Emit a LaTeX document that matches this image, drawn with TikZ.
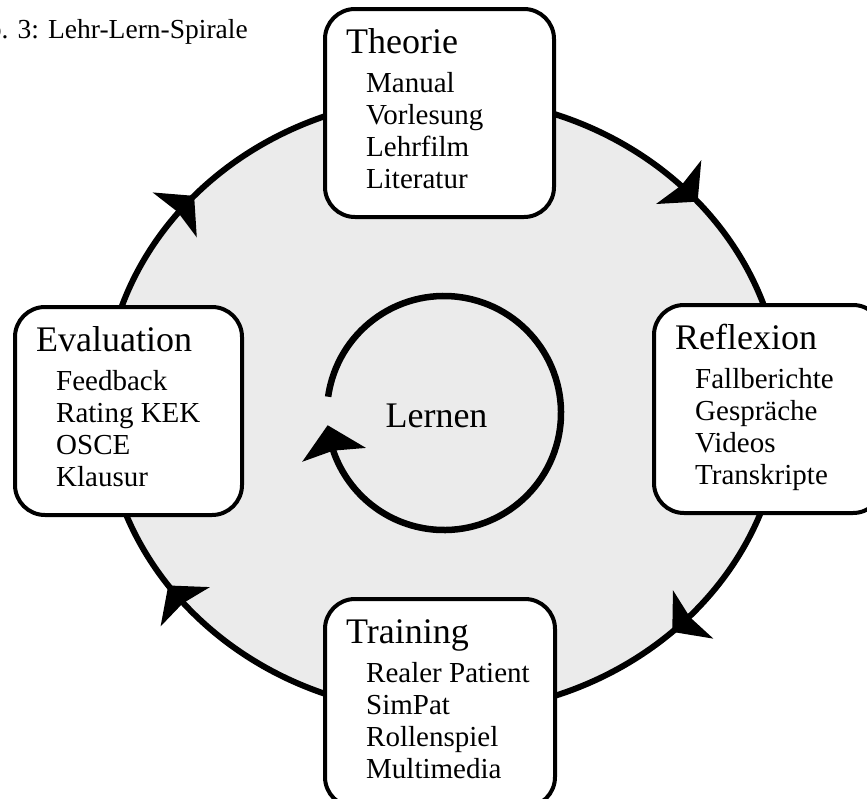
\documentclass[tikz,border=0pt]{standalone}
\usepackage{fontspec}
\setmainfont{Liberation Serif}
\usetikzlibrary{arrows.meta,bending,decorations.markings,calc}
\definecolor{ringfill}{HTML}{EBEBEB}
\tikzset{
  stagebox/.style={draw=black, line width=4pt, rounded corners=30pt, fill=white, inner sep=0pt, minimum height=208pt},
  titletext/.style={anchor=base west, inner sep=0pt, font=\fontsize{36}{40}\selectfont},
  itemtext/.style={anchor=base west, inner sep=0pt, font=\fontsize{29}{32}\selectfont},
  bigtip/.tip={Stealth[length=27pt,width=62pt,inset=4pt]},
  loopline/.style={line width=6.5pt, -{Stealth[length=30pt,width=64pt,inset=4pt]}},
  ringline/.style={line width=6pt, draw=black, fill=ringfill},
}
\newcommand{\mkstage}[6]{%
  \node[stagebox, minimum width=#4, anchor=north west] (#1) at (#2,#3) {};
  \node[titletext] (#1-title) at ($(#1.north west)+(23,46)$) {#5};
  \foreach \t [count=\i] in {#6} {
    \node[itemtext] (#1-item\i) at ($(#1.north west)+(43,54+31.8*\i)$) {\t};
  }%
}
\begin{document}
\begin{tikzpicture}[x=1pt,y=-1pt]
\useasboundingbox (0,0) rectangle (867,798);
% caption (partly cut off at the left edge, as in the reference)
\node[anchor=base west, inner sep=0pt, font=\fontsize{27.5}{31}\selectfont] (caption) at (48,38) {\llap{Abb. 3: }Lehr-Lern-Spirale};
% outer ring with clockwise arrowheads
\coordinate (ctr) at (443,405);
\draw[ringline, postaction={decorate}, decoration={markings,
    mark=at position 0.128 with {\arrow{bigtip}},
    mark=at position 0.404 with {\arrow{bigtip}},
    mark=at position 0.615 with {\arrow{bigtip}},
    mark=at position 0.889 with {\arrow{bigtip}}}]
  (ctr) ellipse [x radius=339, y radius=308];
% inner loop
\coordinate (lctr) at (444,413);
\node[anchor=base, inner sep=0pt, font=\fontsize{36}{40}\selectfont] (lernen) at (436.5,427) {Lernen};
\draw[loopline] ($(lctr)+(188:117)$) arc[start angle=188, end angle=534, radius=117];
% stage boxes
\mkstage{theorie}{323}{7}{229}{Theorie}{Manual,Vorlesung,Lehrfilm,Literatur}
\mkstage{evaluation}{13}{305}{227}{Evaluation}{Feedback,Rating KEK,OSCE,Klausur}
\mkstage{reflexion}{652}{303}{229}{Reflexion}{Fallberichte,Gespräche,Videos,Transkripte}
\mkstage{training}{323}{597}{230}{Training}{Realer Patient,SimPat,Rollenspiel,Multimedia}
\end{tikzpicture}
\end{document}
